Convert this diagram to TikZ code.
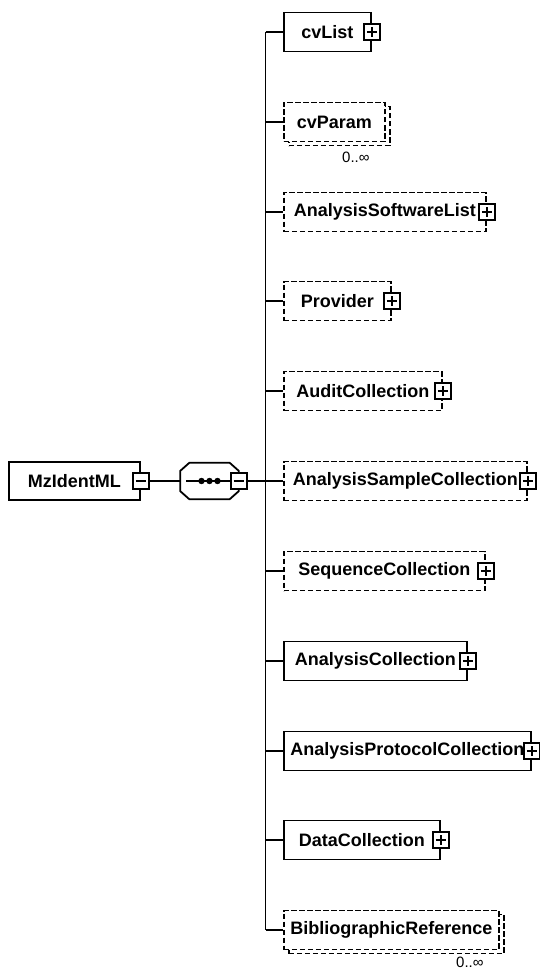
\documentclass[tikz,border=0pt]{standalone}
\usepackage{fontspec}
\setmainfont{Liberation Sans}
\usetikzlibrary{positioning,shadows}
\tikzset{
  elem/.style={draw, line width=1.8pt, fill=white, minimum height=39pt, inner sep=0pt, anchor=west,
    font=\bfseries\fontsize{18}{21}\selectfont},
  opt/.style={dash pattern=on 5.5pt off 2.5pt},
  many/.style={copy shadow={shadow xshift=5pt, shadow yshift=-4pt, draw, fill=white}},
  rep/.style={opt, many},
  conn/.style={line width=1.7pt},
  sqbox/.style={draw, line width=1.7pt, fill=white, minimum size=16pt, inner sep=0pt},
  plusbox/.style={sqbox, path picture={
    \draw[line width=1.5pt] ([xshift=3pt]path picture bounding box.west) -- ([xshift=-3pt]path picture bounding box.east)
      ([yshift=-3pt]path picture bounding box.north) -- ([yshift=3pt]path picture bounding box.south);}},
  minusbox/.style={sqbox, path picture={
    \draw[line width=1.5pt] ([xshift=3pt]path picture bounding box.west) -- ([xshift=-3pt]path picture bounding box.east);}},
  mult/.style={font=\fontsize{15}{17}\selectfont, inner sep=0pt}
}
\begin{document}
\begin{tikzpicture}[x=1pt, y=-1pt]
\useasboundingbox (0,0) rectangle (540,971);

% root element and sequence
\node[elem, minimum width=131pt, minimum height=38pt] (MzIdentML) at (8,481) {MzIdentML};
\node[minusbox] (MzIdentML-x) at (MzIdentML.east) {};
\node[minimum width=58pt, minimum height=36pt, inner sep=0pt] (seq) at (209.5,481) {};
\draw[line width=1.8pt] ([xshift=9pt]seq.north west) -- ([xshift=-9pt]seq.north east) -- ([yshift=-8pt]seq.north east)
  -- ([yshift=8pt]seq.south east) -- ([xshift=-9pt]seq.south east) -- ([xshift=9pt]seq.south west)
  -- ([yshift=8pt]seq.south west) -- ([yshift=-8pt]seq.north west) -- cycle;
\draw[conn] ([xshift=6pt]seq.west) -- (seq.east);
\foreach \d in {-8,0,8}
  \fill ([xshift=\d pt]seq.center) circle (3.2pt);
\node[minusbox] (seq-x) at (seq.east) {};
\coordinate (bus) at (265.5,481);
\draw[conn] (MzIdentML-x) -- (seq);
\draw[conn] (seq-x) -- (bus);

% children
\foreach \n/\w/\s/\y in {cvList/87/solid/32, cvParam/101/rep/122, AnalysisSoftwareList/202/opt/212,
  Provider/107/opt/301, AuditCollection/158/opt/391, AnalysisSampleCollection/243/opt/481,
  SequenceCollection/201/opt/571, AnalysisCollection/183/solid/661, AnalysisProtocolCollection/247/solid/751,
  DataCollection/156/solid/840, BibliographicReference/215/rep/930}
{
  \node[elem, \s, minimum width=\w pt] (\n) at (283,\y) {\n};
  \draw[conn] (bus |- \n.west) -- (\n.west);
}
\draw[conn] (bus |- cvList.west) -- (bus |- BibliographicReference.west);
\foreach \n in {cvList, AnalysisSoftwareList, Provider, AuditCollection, AnalysisSampleCollection,
  SequenceCollection, AnalysisCollection, AnalysisProtocolCollection, DataCollection}
  \node[plusbox] (\n-x) at (\n.east) {};

\node[mult, anchor=north east] (cvParam-m) at ([xshift=-16pt,yshift=-9pt]cvParam.south east) {0..∞};
\node[mult, anchor=north east] (BibliographicReference-m) at ([xshift=-16pt,yshift=-6pt]BibliographicReference.south east) {0..∞};
\end{tikzpicture}
\end{document}
